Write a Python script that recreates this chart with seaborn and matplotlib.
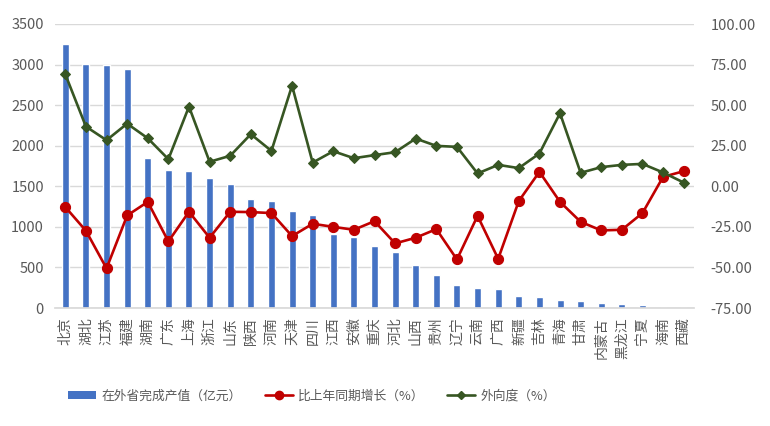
import matplotlib
matplotlib.use("Agg")
import matplotlib.pyplot as plt
import seaborn as sns
import pandas as pd
import numpy as np
from matplotlib.lines import Line2D
from matplotlib.patches import Patch

provinces = ["北京", "湖北", "江苏", "福建", "湖南", "广东", "上海", "浙江", "山东", "陕西",
             "河南", "天津", "四川", "江西", "安徽", "重庆", "河北", "山西", "贵州", "辽宁",
             "云南", "广西", "新疆", "吉林", "青海", "甘肃", "内蒙古", "黑龙江", "宁夏", "海南", "西藏"]
output_value = [3250, 3010, 2990, 2950, 1850, 1700, 1690, 1600, 1530, 1340,
                1320, 1190, 1150, 915, 880, 770, 690, 530, 410, 280,
                250, 240, 150, 140, 95, 92, 60, 45, 40, 0, 0]
growth = [-12.8, -27.4, -50.6, -18.0, -9.6, -34.0, -15.7, -31.7, -15.7, -15.9,
          -16.5, -30.7, -23.1, -25.0, -26.8, -21.5, -35.2, -31.7, -26.4, -45.1,
          -18.2, -44.7, -9.1, 8.9, -9.6, -21.9, -27.2, -26.8, -16.5, 5.8, 9.3]
outward = [69.0, 36.8, 28.4, 38.6, 29.6, 16.7, 49.1, 15.1, 18.8, 32.1,
           21.8, 62.0, 14.6, 21.6, 17.3, 19.2, 21.0, 29.4, 24.9, 24.3,
           7.9, 13.2, 11.2, 20.2, 45.0, 8.3, 11.8, 13.2, 13.8, 8.5, 2.3]

label_bar = "在外省完成产值（亿元）"
label_growth = "比上年同期增长（%）"
label_out = "外向度（%）"

df = pd.DataFrame({"province": provinces, "value": output_value,
                   "growth": growth, "outward": outward})
df["idx"] = np.arange(len(df))

sns.set_theme(style="white")
plt.rcParams["font.family"] = ["Noto Sans CJK SC", "DejaVu Sans"]

TXT = "#595959"
GRID = "#D9D9D9"
BLUE = "#4472C4"
RED = "#C00000"
GREEN = "#375623"

fig = plt.figure(figsize=(7.7, 4.26), dpi=100)
ax = fig.add_axes([55/770, 1-308/426, (694-55)/770, (308-24)/426])

sns.barplot(data=df, x="province", y="value", color=BLUE, width=0.34,
            saturation=1, ax=ax, order=provinces)
ax.set_ylim(0, 3500)
ax.set_yticks(np.arange(0, 3501, 500))
ax.yaxis.grid(True, color=GRID, linewidth=1)
ax.set_axisbelow(True)
ax.set_xlim(-0.5, 30.5)
ax.set_xlabel("")
ax.set_ylabel("")
ax.set_xticks(range(len(provinces)))
ax.set_xticklabels(provinces, fontsize=10, color=TXT, rotation=90,
                   ha="center", va="top")
ax.tick_params(axis="x", length=0, pad=7)
ax.tick_params(axis="y", length=0, labelsize=10.5, labelcolor=TXT, pad=8)
for s in ["top", "left", "right"]:
    ax.spines[s].set_visible(False)
ax.spines["bottom"].set_color(GRID)

ax2 = ax.twinx()
sns.lineplot(data=df, x="idx", y="growth", color=RED, linewidth=1.9, marker="o",
             markersize=7.3, markeredgecolor=RED, ax=ax2, legend=False)
sns.lineplot(data=df, x="idx", y="outward", color=GREEN, linewidth=1.9, marker="D",
             markersize=5, markeredgecolor=GREEN, ax=ax2, legend=False)
ax2.set_ylim(-75, 100)
ax2.set_yticks(np.arange(-75, 100.1, 25))
ax2.set_yticklabels([f"{v:.2f}" for v in np.arange(-75, 100.1, 25)])
ax2.tick_params(axis="y", length=0, labelsize=10.5, labelcolor=TXT, pad=12)
ax2.set_xlabel("")
ax2.set_ylabel("")
ax2.grid(False)
for s in ["top", "left", "right", "bottom"]:
    ax2.spines[s].set_visible(False)
ax2.set_xlim(-0.5, 30.5)

handles = [Patch(facecolor=BLUE, edgecolor="none"),
           Line2D([], [], color=RED, linewidth=1.9, marker="o", markersize=6),
           Line2D([], [], color=GREEN, linewidth=1.9, marker="D", markersize=4.5)]
leg = fig.legend(handles, [label_bar, label_growth, label_out], loc="center left",
                 bbox_to_anchor=(63/770, 1 - 396/426), ncol=3, frameon=False,
                 fontsize=9.2, handlelength=2.2, handleheight=0.55, columnspacing=1.8,
                 handletextpad=0.4, borderaxespad=0)
for t in leg.get_texts():
    t.set_color(TXT)

fig.savefig("out.png", dpi=100)
